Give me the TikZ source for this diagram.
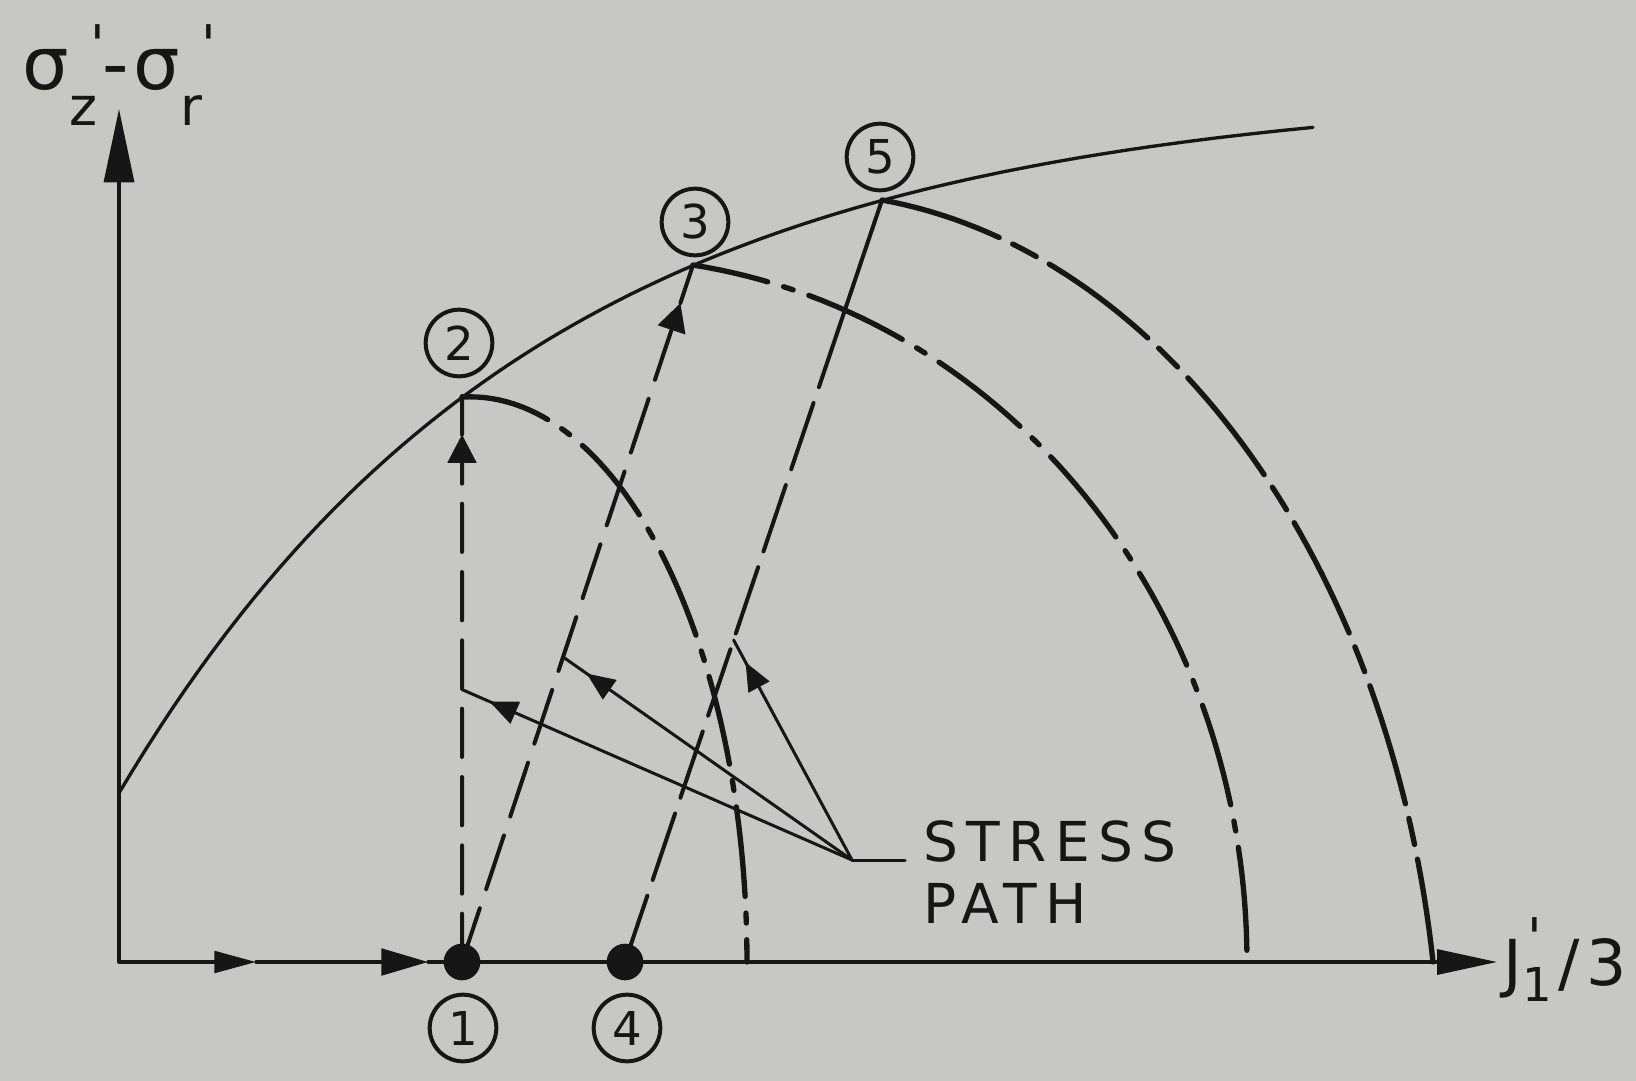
\documentclass[tikz,border=0pt]{standalone}
\usepackage{fontspec}
\setmainfont{DejaVu Sans}
\usepackage{xcolor}
\usetikzlibrary{arrows.meta,calc,decorations.markings}
\definecolor{paper}{RGB}{199,200,195}
\definecolor{ink}{RGB}{22,22,22}

% sigma with a prime over a lowered subscript
\newcommand\sigprime[1]{σ\makebox[0pt][l]{\raisebox{8pt}{\hspace{6.5pt}\fontsize{16}{16}\selectfont\textquotesingle}}%
  \raisebox{-10.8pt}{\fontsize{16}{16}\selectfont #1}}

\tikzset{
  axisline/.style={line width=1pt},
  envelope/.style={line width=1pt},
  yieldcap/.style={line width=1.6pt},
  capdot/.style={yieldcap,dash pattern=on 27pt off 5pt on 3pt off 5pt},
  capdash/.style={yieldcap,dash pattern=on 37pt off 4.5pt on 8pt off 4.5pt},
  spath/.style={line width=1.2pt},
  pathtip/.style={-{Triangle[length=8.5pt,width=8.5pt]}},
  leader/.style={line width=0.9pt},
  midtip/.style={postaction={decorate,decoration={markings,
      mark=at position #1 with {\arrow{Triangle[length=8.5pt,width=7pt]}}}}},
  statedot/.style={circle,fill=ink,inner sep=0pt,minimum size=11pt},
  numcirc/.style={circle,draw=ink,line width=1.2pt,inner sep=0pt,minimum size=20pt,
      font=\fontsize{14}{15}\selectfont},
  lbl/.style={inner sep=0pt,font=\fontsize{16.5}{18}\selectfont\addfontfeatures{LetterSpace=15}},
  axlbl/.style={inner sep=0pt},
}

\begin{document}
\begin{tikzpicture}[x=0.3pt,y=-0.3pt,color=ink,line cap=round,line join=round]
  \path[use as bounding box,fill=paper] (0,0) rectangle (1636,1081);

  % axes and states
  \coordinate (O) at (119,962);
  \coordinate (Ytip) at (119,109);
  \coordinate (Xtip) at (1497,962);
  \coordinate (A1) at (256,962);
  \coordinate (A2) at (428,962);
  \coordinate (P1) at (462,962);
  \coordinate (P4) at (625,962);
  \coordinate (P2) at (462,396);
  \coordinate (P3) at (693,265);
  \coordinate (P5) at (882,200);

  % failure envelope
  \draw[envelope] plot[domain=119:1313,samples=90] (\x,{87+706*exp(-0.002393*(\x-119))});

  % caps
  \draw[capdot] plot[domain=-91.66:0,samples=60] ({470+277*cos(\x)},{962+565.2*sin(\x)});
  \draw[capdot,dash pattern=on 31pt off 5pt on 3pt off 5pt,dash phase=8pt]
    plot[domain=-81.74:0,samples=70] ({600+647*cos(\x)},{962+704.3*sin(\x)});
  \draw[capdash] plot[domain=-82.64:-8.75,samples=70] ({800+640.5*cos(\x)},{1100+907.5*sin(\x)});

  % stress paths
  \coordinate (T12) at ($(P1)!0.932!(P2)$);
  \coordinate (T13) at ($(P1)!0.9455!(P3)$);
  \coordinate (S45) at ($(P4)!0.79!(P5)$);
  \coordinate (E1) at ($(P1)!0.4814!(P2)$);
  \coordinate (E2) at ($(P1)!0.4376!(P3)$);
  \coordinate (E3) at ($(P4)!0.4226!(P5)$);

  \draw[spath,dash pattern=on 14.5pt off 6pt,pathtip] (P1) -- (T12);
  \draw[spath] (T12) -- (P2);
  \draw[spath,dash pattern=on 17pt off 6pt,pathtip] (P1) -- (T13);
  \draw[spath] (T13) -- (P3);
  \draw[spath,dash pattern=on 21pt off 5pt] (P4) -- (S45);
  \draw[spath] (S45) -- (P5);

  % leaders
  \coordinate (L) at (852,860);
  \coordinate (Lend) at (905,860);
  \draw[leader,midtip=0.93] (L) -- (E1);
  \draw[leader,midtip=0.92] (L) -- (E2);
  \draw[leader,midtip=0.9] (L) -- (E3);
  \draw[leader] (L) -- (Lend);
  \node[lbl,anchor=base west] (stress) at (923,861) {STRESS};
  \node[lbl,anchor=base west] (pathlbl) at (923,923) {PATH};

  \draw[axisline,-{Triangle[length=22pt,width=9pt]}] (O) -- (Ytip);
  \draw[axisline,-{Triangle[length=12.5pt,width=6.5pt]}] (O) -- (A1);
  \draw[axisline,-{Triangle[length=14pt,width=8pt]}] (A1) -- (A2);
  \draw[axisline,-{Triangle[length=18pt,width=7.5pt]}] (A2) -- (Xtip);

  \node[statedot] (d1) at (P1) {};
  \node[statedot] (d4) at (P4) {};

  \node[numcirc] (n1) at (463,1028) {1};
  \node[numcirc] (n4) at (627,1028) {4};
  \node[numcirc] (n2) at (459,343) {2};
  \node[numcirc] (n3) at (695,222) {3};
  \node[numcirc] (n5) at (880,157) {5};

  \node[axlbl,anchor=base west,font=\fontsize{22}{24}\selectfont] (ylab) at (22,90)
    {\sigprime{z}\hspace{1.5pt}-\hspace{1.5pt}\sigprime{r}};
  \node[axlbl,anchor=base west,font=\fontsize{19}{20}\selectfont] (xlab) at (1503,985)
    {J\makebox[0pt][l]{\raisebox{8.5pt}{\hspace{1.5pt}\fontsize{16}{16}\selectfont\textquotesingle}}\raisebox{-5pt}{\fontsize{14}{14}\selectfont 1}\hspace{2pt}/\hspace{2pt}3};
\end{tikzpicture}
\end{document}
